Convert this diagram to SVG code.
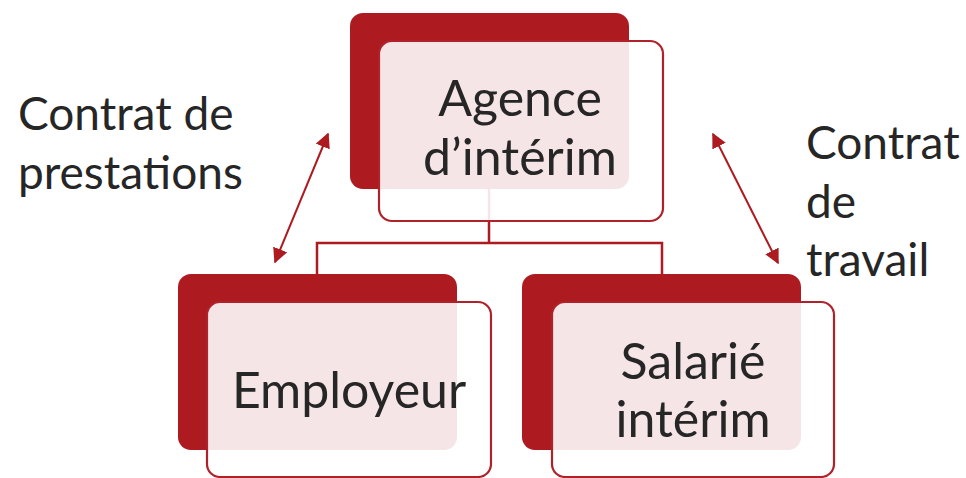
<svg xmlns="http://www.w3.org/2000/svg" width="966" height="478" viewBox="0 0 966 478">
<defs>
<style>
.back{fill:#AD1A20;}
.front{fill:#ffffff;fill-opacity:0.89;stroke:#B0222A;stroke-width:2.2;}
.conn{fill:none;stroke:#AD1A20;stroke-width:2.5;}
.arr{fill:none;stroke:#AD1A20;stroke-width:2;}
.t{font-family:Lato,"Open Sans",sans-serif;font-size:46px;fill:#262626;}
.n{font-size:50px;}
.c{text-anchor:middle;}
</style>
<marker id="ah" viewBox="0 0 10 10" refX="9" refY="5" markerWidth="7.5" markerHeight="7.5" markerUnits="strokeWidth" orient="auto-start-reverse">
<path d="M0,0 L10,5 L0,10 Z" fill="#AD1A20"/>
</marker>
</defs>
<rect width="966" height="478" fill="#ffffff"/>
<g id="n1-back"><rect class="back" x="350" y="13" width="279" height="176" rx="13"/></g>
<g id="n2-back"><rect class="back" x="178" y="274" width="279" height="176" rx="13"/></g>
<g id="n3-back"><rect class="back" x="522" y="274" width="279" height="176" rx="13"/></g>
<g id="connectors">
<path class="conn" d="M489,189 V243 M317,274 V243 H662 V274"/>
<line class="arr" x1="275" y1="262" x2="328" y2="134" marker-start="url(#ah)" marker-end="url(#ah)"/>
<line class="arr" x1="713" y1="134" x2="778" y2="263" marker-start="url(#ah)" marker-end="url(#ah)"/>
</g>
<g id="agence">
<rect class="front" x="379" y="41" width="284" height="180" rx="13"/>
<text class="t n c" x="520" y="116">Agence</text>
<text class="t n c" x="520" y="175">d’intérim</text>
</g>
<g id="employeur">
<rect class="front" x="207" y="302" width="284" height="175" rx="13"/>
<text class="t n c" x="349" y="408">Employeur</text>
</g>
<g id="salarie">
<rect class="front" x="552" y="302" width="282" height="175" rx="13"/>
<text class="t n c" x="693" y="379">Salarié</text>
<text class="t n c" x="693" y="437">intérim</text>
</g>
<g id="label-left">
<text class="t" x="18" y="130">Contrat de</text>
<text class="t" x="18" y="189">prestations</text>
</g>
<g id="label-right">
<text class="t" x="806" y="159">Contrat</text>
<text class="t" x="806" y="218">de</text>
<text class="t" x="806" y="276">travail</text>
</g>
</svg>
